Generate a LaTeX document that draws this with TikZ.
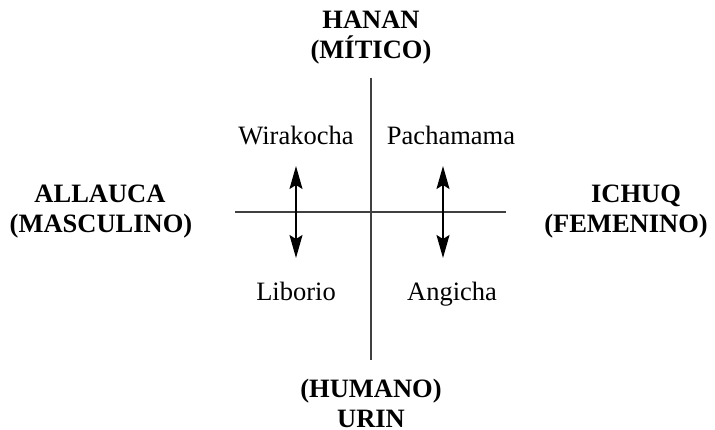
\documentclass[tikz,border=0pt]{standalone}
\usepackage{fontspec}
\setmainfont{Liberation Serif}
\usetikzlibrary{arrows.meta}
\begin{document}
\begin{tikzpicture}[x=1pt,y=-1pt,
  lbl/.style={font=\fontsize{26.5}{30}\selectfont\bfseries, inner sep=0pt, anchor=base},
  nm/.style={font=\fontsize{26.5}{30}\selectfont, inner sep=0pt, anchor=base},
  axis/.style={draw=black!75, line width=1.4pt},
  arr/.style={line width=1.4pt, {Stealth[length=23pt,width=13pt,inset=4pt]}-{Stealth[length=23pt,width=13pt,inset=4pt]}}]
\useasboundingbox (0,0) rectangle (715,430);
\node[lbl] (top1) at (371,29) {HANAN};
\node[lbl] (top2) at (371,59) {(MÍTICO)};
\node[lbl] (bot1) at (371,397) {(HUMANO)};
\node[lbl] (bot2) at (371,427) {URIN};
\node[lbl] (left1) at (100,203) {ALLAUCA};
\node[lbl] (left2) at (101,233) {(MASCULINO)};
\node[lbl] (right1) at (636,203) {ICHUQ};
\node[lbl] (right2) at (626,233) {(FEMENINO)};
\node[nm] (wi) at (296,145) {Wirakocha};
\node[nm] (pa) at (451,145) {Pachamama};
\node[nm] (li) at (296,301) {Liborio};
\node[nm] (an) at (452,301) {Angicha};
\coordinate (vt) at (371,78);
\coordinate (vb) at (371,360);
\coordinate (hl) at (235,212);
\coordinate (hr) at (506,212);
\coordinate (a1) at (296,166);
\coordinate (a2) at (296,258);
\coordinate (b1) at (443,166);
\coordinate (b2) at (443,258);
\draw[axis] (vt) -- (vb);
\draw[axis] (hl) -- (hr);
\draw[arr] (a1) -- (a2);
\draw[arr] (b1) -- (b2);
\end{tikzpicture}
\end{document}
